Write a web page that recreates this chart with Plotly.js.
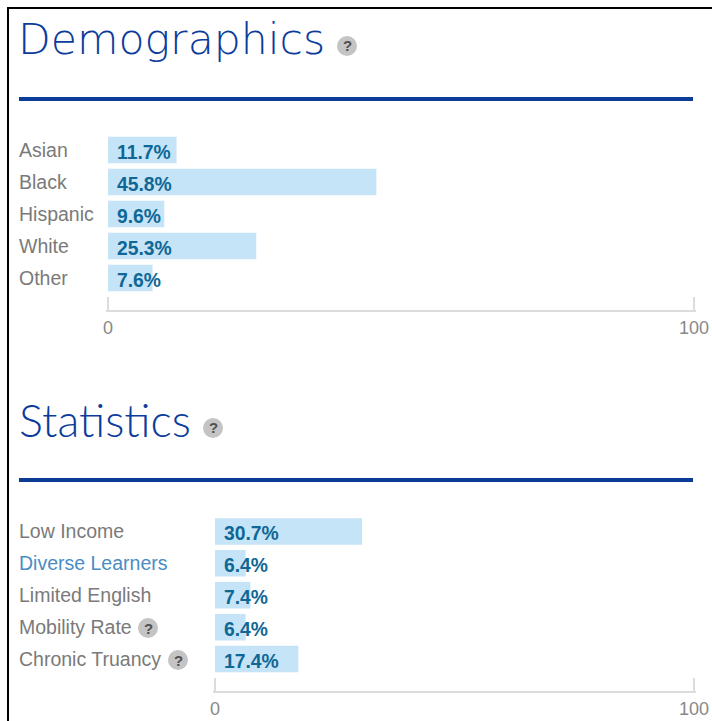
<!DOCTYPE html>
<html><head><meta charset="utf-8">
<script src="https://cdn.plot.ly/plotly-3.0.1.min.js"></script>
<style>html,body{margin:0;padding:0;background:#fff}#c{width:712px;height:721px}</style>
</head><body><div id="c"></div>
<script>
const demoCategories = ["Asian","Black","Hispanic","White","Other"];
const demoValues = [11.7,45.8,9.6,25.3,7.6];
const statCategories = ["Low Income","Diverse Learners","Limited English","Mobility Rate","Chronic Truancy"];
const statValues = [30.7,6.4,7.4,6.4,17.4];
const axisTicks = [0,100];
const W = 712, H = 721;
const px = x => x / W, py = y => 1 - y / H;
const sans = "'Liberation Sans', Arial, sans-serif";
const GRAY = "#7a7a7a", BLUE = "#0b3c9c", VAL = "#0f6796", BAR = "#c5e4f7", LINE = "#dcdcdc";

const bar = (cats, vals, xa, ya) => ({type:"bar", orientation:"h", x:vals, y:cats, xaxis:xa, yaxis:ya,
  width:0.83, marker:{color:BAR, line:{width:0}}, hoverinfo:"skip"});

const annotations = [], shapes = [];
const flat = {borderpad:0, borderwidth:0, showarrow:false};
function rows(cats, vals, xa, ya){
  cats.forEach((c,i)=>{
    annotations.push({...flat, xref:"paper", yref:ya, x:px(19), y:c, xanchor:"left", yanchor:"middle",
      text:c, font:{family:sans, size:19.5, color:c==="Diverse Learners"?"#4a8cc4":GRAY}});
    annotations.push({...flat, xref:xa, yref:ya, x:0, y:c, xanchor:"left", yanchor:"middle", xshift:9, yshift:-2,
      text:vals[i].toFixed(1)+"%", font:{family:sans, size:19.3, color:VAL, weight:700}});
  });
}
rows(demoCategories, demoValues, "x", "y");
rows(statCategories, statValues, "x2", "y2");

function title(t, x, y, family, size, weight){
  annotations.push({...flat, xref:"paper", yref:"paper", x:px(x), y:py(y), xanchor:"left", yanchor:"middle",
    text:t, font:{family, size, color:BLUE, weight}});
}
title("Demographics", 18, 39, "'DejaVu Sans', sans-serif", 42.6, 200);
title("Statistics", 19, 420, "Lato, sans-serif", 45, 300);

function help(cx, cy){
  shapes.push({type:"circle", xref:"paper", yref:"paper", x0:px(cx-10), x1:px(cx+10), y0:py(cy+10), y1:py(cy-10),
    fillcolor:"#c4c4c4", line:{width:0}, layer:"above"});
  annotations.push({...flat, xref:"paper", yref:"paper", x:px(cx), y:py(cy), xanchor:"center", yanchor:"middle",
    text:"?", font:{family:sans, size:15, color:"#505050", weight:700}});
}
help(347,46); help(213,428); help(148,628); help(178,660);

function rule(y){
  shapes.push({type:"rect", xref:"paper", yref:"paper", x0:px(19), x1:px(693), y0:py(y+2), y1:py(y-2), fillcolor:"#0b3c96", line:{width:0}});
}
rule(99); rule(480);
// page frame
shapes.push({type:"rect", xref:"paper", yref:"paper", x0:px(7), x1:px(9), y0:0, y1:py(7), fillcolor:"#000", line:{width:0}});
shapes.push({type:"rect", xref:"paper", yref:"paper", x0:px(7), x1:1, y0:py(9), y1:py(7), fillcolor:"#000", line:{width:0}});

// the range is padded by 2px each side so that the end ticks are not dropped by the library
const xax = (l, anchor) => {
  const pad = 2 * 100 / (694 - l);
  return {domain:[px(l-2),px(696)], range:[-pad,100+pad], anchor, tickmode:"array", tickvals:axisTicks, ticktext:axisTicks.map(String),
  ticks:"inside", ticklen:13, tickwidth:2, tickcolor:LINE, showline:true, linecolor:LINE, linewidth:2, showgrid:false, zeroline:false,
  ticklabelstandoff:0, tickfont:{family:sans, size:18, color:"#888888"}, fixedrange:true};
};
const yax = (cats, top, bottom, anchor) => ({domain:[py(bottom),py(top)], type:"category", categoryorder:"array", categoryarray:cats,
  range:[5,-0.5], anchor, showticklabels:false, ticks:"", showline:false, showgrid:false, zeroline:false, fixedrange:true});

Plotly.newPlot("c",
  [bar(demoCategories,demoValues,"x","y"), bar(statCategories,statValues,"x2","y2")],
  {width:W, height:H, margin:{l:0,r:0,t:0,b:0}, paper_bgcolor:"#fff", plot_bgcolor:"#fff", showlegend:false,
   xaxis:xax(108,"y"), yaxis:yax(demoCategories,134,310,"x"),
   xaxis2:xax(215,"y2"), yaxis2:yax(statCategories,515.5,691,"x2"),
   annotations, shapes},
  {displayModeBar:false, staticPlot:true});
</script></body></html>
